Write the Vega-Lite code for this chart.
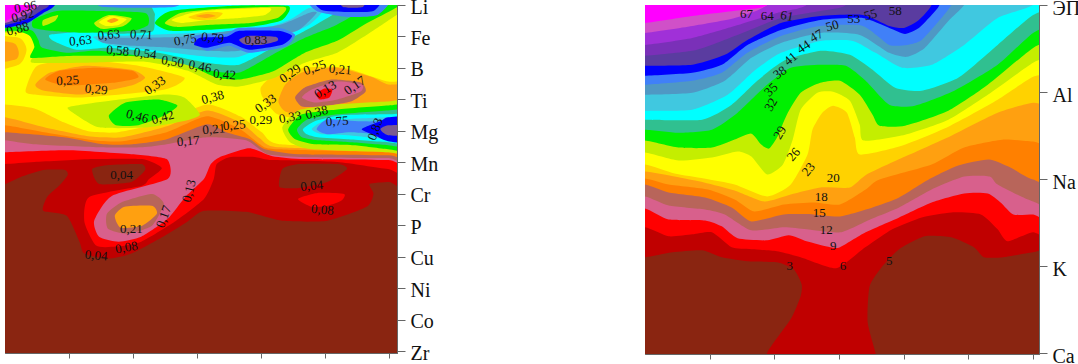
{"$schema":"https://vega.github.io/schema/vega-lite/v6.json","padding":{"left":4,"top":-4,"right":0,"bottom":0},"background":"white","bounds":"flush","spacing":248,"config":{"view":{"stroke":"#555","strokeWidth":1},"concat":{"spacing":248}},"hconcat":[{"width":392,"height":348,"layer":[{"data":{"values":[
{"p":"a","c":"k","x":-30,"y":-30},{"p":"a","c":"k","x":430,"y":-30},{"p":"a","c":"k","x":430,"y":380},{"p":"a","c":"k","x":-30,"y":380},
{"p":"b","c":"dr","x":-30,"y":185},{"p":"b","c":"dr","x":0,"y":180},{"p":"b","c":"dr","x":16,"y":173},{"p":"b","c":"dr","x":39,"y":166},{"p":"b","c":"dr","x":61,"y":166},{"p":"b","c":"dr","x":64,"y":171},{"p":"b","c":"dr","x":56,"y":181},{"p":"b","c":"dr","x":43,"y":193},{"p":"b","c":"dr","x":39,"y":207},{"p":"b","c":"dr","x":63,"y":212},{"p":"b","c":"dr","x":76,"y":238},{"p":"b","c":"dr","x":81,"y":250},{"p":"b","c":"dr","x":105,"y":255},{"p":"b","c":"dr","x":129,"y":250},{"p":"b","c":"dr","x":163,"y":232},{"p":"b","c":"dr","x":186,"y":218},{"p":"b","c":"dr","x":203,"y":207},{"p":"b","c":"dr","x":246,"y":208},{"p":"b","c":"dr","x":283,"y":217},{"p":"b","c":"dr","x":329,"y":217},{"p":"b","c":"dr","x":369,"y":203},{"p":"b","c":"dr","x":376,"y":190},{"p":"b","c":"dr","x":372,"y":180},{"p":"b","c":"dr","x":392,"y":178},{"p":"b","c":"dr","x":420,"y":178},{"p":"b","c":"dr","x":420,"y":-30},{"p":"b","c":"dr","x":-30,"y":-30},
{"p":"c","c":"k","x":89,"y":165},{"p":"c","c":"k","x":106,"y":161},{"p":"c","c":"k","x":139,"y":160},{"p":"c","c":"k","x":143,"y":166},{"p":"c","c":"k","x":129,"y":178},{"p":"c","c":"k","x":96,"y":180},
{"p":"d","c":"k","x":283,"y":165},{"p":"d","c":"k","x":300,"y":160},{"p":"d","c":"k","x":340,"y":160},{"p":"d","c":"k","x":349,"y":165},{"p":"d","c":"k","x":329,"y":178},{"p":"d","c":"k","x":300,"y":184},{"p":"d","c":"k","x":280,"y":183},
{"p":"e","c":"r","x":-30,"y":160},{"p":"e","c":"r","x":0,"y":160},{"p":"e","c":"r","x":30,"y":158},{"p":"e","c":"r","x":90,"y":155},{"p":"e","c":"r","x":140,"y":155},{"p":"e","c":"r","x":160,"y":164},{"p":"e","c":"r","x":147,"y":175},{"p":"e","c":"r","x":139,"y":182},{"p":"e","c":"r","x":86,"y":193},{"p":"e","c":"r","x":81,"y":218},{"p":"e","c":"r","x":93,"y":242},{"p":"e","c":"r","x":113,"y":243},{"p":"e","c":"r","x":139,"y":238},{"p":"e","c":"r","x":173,"y":218},{"p":"e","c":"r","x":203,"y":195},{"p":"e","c":"r","x":213,"y":175},{"p":"e","c":"r","x":216,"y":160},{"p":"e","c":"r","x":229,"y":153},{"p":"e","c":"r","x":256,"y":153},{"p":"e","c":"r","x":273,"y":156},{"p":"e","c":"r","x":339,"y":158},{"p":"e","c":"r","x":391,"y":165},{"p":"e","c":"r","x":420,"y":165},{"p":"e","c":"r","x":420,"y":-30},{"p":"e","c":"r","x":-30,"y":-30},
{"p":"f","c":"r","x":299,"y":195},{"p":"f","c":"r","x":319,"y":189},{"p":"f","c":"r","x":346,"y":190},{"p":"f","c":"r","x":343,"y":197},{"p":"f","c":"r","x":329,"y":202},{"p":"f","c":"r","x":313,"y":203},
{"p":"g","c":"pk","x":-30,"y":148},{"p":"g","c":"pk","x":0,"y":148},{"p":"g","c":"pk","x":63,"y":146},{"p":"g","c":"pk","x":129,"y":150},{"p":"g","c":"pk","x":165,"y":155},{"p":"g","c":"pk","x":166,"y":175},{"p":"g","c":"pk","x":109,"y":192},{"p":"g","c":"pk","x":91,"y":217},{"p":"g","c":"pk","x":96,"y":233},{"p":"g","c":"pk","x":116,"y":238},{"p":"g","c":"pk","x":139,"y":233},{"p":"g","c":"pk","x":166,"y":215},{"p":"g","c":"pk","x":184,"y":193},{"p":"g","c":"pk","x":203,"y":175},{"p":"g","c":"pk","x":210,"y":160},{"p":"g","c":"pk","x":219,"y":153},{"p":"g","c":"pk","x":249,"y":144},{"p":"g","c":"pk","x":273,"y":152},{"p":"g","c":"pk","x":306,"y":155},{"p":"g","c":"pk","x":391,"y":156},{"p":"g","c":"pk","x":420,"y":156},{"p":"g","c":"pk","x":420,"y":-30},{"p":"g","c":"pk","x":-30,"y":-30},
{"p":"h","c":"rb","x":120,"y":198},{"p":"h","c":"rb","x":150,"y":190},{"p":"h","c":"rb","x":162,"y":200},{"p":"h","c":"rb","x":150,"y":222},{"p":"h","c":"rb","x":125,"y":230},{"p":"h","c":"rb","x":105,"y":225},{"p":"h","c":"rb","x":104,"y":210},
{"p":"i","c":"o","x":112,"y":212},{"p":"i","c":"o","x":122,"y":203},{"p":"i","c":"o","x":150,"y":202},{"p":"i","c":"o","x":155,"y":210},{"p":"i","c":"o","x":140,"y":222},{"p":"i","c":"o","x":118,"y":224},
{"p":"j","c":"rb","x":-30,"y":136},{"p":"j","c":"rb","x":0,"y":136},{"p":"j","c":"rb","x":29,"y":140},{"p":"j","c":"rb","x":96,"y":143},{"p":"j","c":"rb","x":140,"y":143},{"p":"j","c":"rb","x":165,"y":140},{"p":"j","c":"rb","x":206,"y":133},{"p":"j","c":"rb","x":246,"y":136},{"p":"j","c":"rb","x":268,"y":150},{"p":"j","c":"rb","x":306,"y":153},{"p":"j","c":"rb","x":391,"y":154},{"p":"j","c":"rb","x":420,"y":154},{"p":"j","c":"rb","x":420,"y":-30},{"p":"j","c":"rb","x":-30,"y":-30},
{"p":"l","c":"do","x":-30,"y":128},{"p":"l","c":"do","x":0,"y":128},{"p":"l","c":"do","x":60,"y":133},{"p":"l","c":"do","x":100,"y":140},{"p":"l","c":"do","x":130,"y":140},{"p":"l","c":"do","x":165,"y":135},{"p":"l","c":"do","x":206,"y":120},{"p":"l","c":"do","x":226,"y":128},{"p":"l","c":"do","x":250,"y":135},{"p":"l","c":"do","x":265,"y":145},{"p":"l","c":"do","x":300,"y":150},{"p":"l","c":"do","x":392,"y":151},{"p":"l","c":"do","x":420,"y":151},{"p":"l","c":"do","x":420,"y":-30},{"p":"l","c":"do","x":-30,"y":-30},
{"p":"n","c":"o","x":-30,"y":121},{"p":"n","c":"o","x":0,"y":121},{"p":"n","c":"o","x":40,"y":128},{"p":"n","c":"o","x":90,"y":136},{"p":"n","c":"o","x":120,"y":137},{"p":"n","c":"o","x":165,"y":128},{"p":"n","c":"o","x":206,"y":112},{"p":"n","c":"o","x":240,"y":125},{"p":"n","c":"o","x":260,"y":140},{"p":"n","c":"o","x":276,"y":145},{"p":"n","c":"o","x":392,"y":148},{"p":"n","c":"o","x":420,"y":148},{"p":"n","c":"o","x":420,"y":-30},{"p":"n","c":"o","x":-30,"y":-30},
{"p":"o","c":"g","x":-30,"y":113},{"p":"o","c":"g","x":0,"y":113},{"p":"o","c":"g","x":40,"y":123},{"p":"o","c":"g","x":85,"y":132},{"p":"o","c":"g","x":120,"y":133},{"p":"o","c":"g","x":165,"y":122},{"p":"o","c":"g","x":206,"y":106},{"p":"o","c":"g","x":240,"y":118},{"p":"o","c":"g","x":260,"y":134},{"p":"o","c":"g","x":278,"y":143},{"p":"o","c":"g","x":392,"y":146},{"p":"o","c":"g","x":420,"y":146},{"p":"o","c":"g","x":420,"y":-30},{"p":"o","c":"g","x":-30,"y":-30},
{"p":"q","c":"y","x":-30,"y":100},{"p":"q","c":"y","x":0,"y":100},{"p":"q","c":"y","x":30,"y":104},{"p":"q","c":"y","x":60,"y":118},{"p":"q","c":"y","x":85,"y":127},{"p":"q","c":"y","x":115,"y":128},{"p":"q","c":"y","x":160,"y":118},{"p":"q","c":"y","x":206,"y":100},{"p":"q","c":"y","x":240,"y":112},{"p":"q","c":"y","x":262,"y":128},{"p":"q","c":"y","x":280,"y":140},{"p":"q","c":"y","x":392,"y":144},{"p":"q","c":"y","x":420,"y":144},{"p":"q","c":"y","x":420,"y":-30},{"p":"q","c":"y","x":-30,"y":-30},
{"p":"s","c":"g","x":-30,"y":32},{"p":"s","c":"g","x":14,"y":33},{"p":"s","c":"g","x":22,"y":45},{"p":"s","c":"g","x":14,"y":60},{"p":"s","c":"g","x":-30,"y":68},
{"p":"t","c":"o","x":-30,"y":36},{"p":"t","c":"o","x":8,"y":38},{"p":"t","c":"o","x":14,"y":47},{"p":"t","c":"o","x":10,"y":55},{"p":"t","c":"o","x":-30,"y":60},
{"p":"u","c":"g","x":21,"y":86},{"p":"u","c":"g","x":33,"y":61},{"p":"u","c":"g","x":76,"y":55},{"p":"u","c":"g","x":136,"y":61},{"p":"u","c":"g","x":183,"y":73},{"p":"u","c":"g","x":163,"y":85},{"p":"u","c":"g","x":79,"y":93},{"p":"u","c":"g","x":29,"y":90},
{"p":"v","c":"o","x":31,"y":80},{"p":"v","c":"o","x":46,"y":68},{"p":"v","c":"o","x":83,"y":61},{"p":"v","c":"o","x":129,"y":65},{"p":"v","c":"o","x":143,"y":73},{"p":"v","c":"o","x":129,"y":81},{"p":"v","c":"o","x":79,"y":90},{"p":"v","c":"o","x":39,"y":86},
{"p":"w","c":"do","x":41,"y":75},{"p":"w","c":"do","x":56,"y":66},{"p":"w","c":"do","x":93,"y":63},{"p":"w","c":"do","x":129,"y":66},{"p":"w","c":"do","x":136,"y":73},{"p":"w","c":"do","x":113,"y":78},{"p":"w","c":"do","x":63,"y":81},
{"p":"x","c":"yg","x":64,"y":103},{"p":"x","c":"yg","x":79,"y":100},{"p":"x","c":"yg","x":109,"y":96},{"p":"x","c":"yg","x":163,"y":90},{"p":"x","c":"yg","x":183,"y":93},{"p":"x","c":"yg","x":199,"y":110},{"p":"x","c":"yg","x":186,"y":116},{"p":"x","c":"yg","x":146,"y":123},{"p":"x","c":"yg","x":96,"y":123},{"p":"x","c":"yg","x":69,"y":108},
{"p":"y","c":"gr","x":106,"y":111},{"p":"y","c":"gr","x":123,"y":98},{"p":"y","c":"gr","x":156,"y":95},{"p":"y","c":"gr","x":176,"y":101},{"p":"y","c":"gr","x":163,"y":111},{"p":"y","c":"gr","x":136,"y":121},{"p":"y","c":"gr","x":113,"y":121},
{"p":"z1","c":"g","x":261,"y":83},{"p":"z1","c":"g","x":273,"y":72},{"p":"z1","c":"g","x":306,"y":63},{"p":"z1","c":"g","x":346,"y":63},{"p":"z1","c":"g","x":391,"y":77},{"p":"z1","c":"g","x":420,"y":77},{"p":"z1","c":"g","x":420,"y":110},{"p":"z1","c":"g","x":391,"y":110},{"p":"z1","c":"g","x":339,"y":108},{"p":"z1","c":"g","x":306,"y":115},{"p":"z1","c":"g","x":278,"y":110},{"p":"z1","c":"g","x":263,"y":93},
{"p":"z2","c":"o","x":279,"y":97},{"p":"z2","c":"o","x":286,"y":80},{"p":"z2","c":"o","x":303,"y":68},{"p":"z2","c":"o","x":339,"y":63},{"p":"z2","c":"o","x":373,"y":72},{"p":"z2","c":"o","x":391,"y":80},{"p":"z2","c":"o","x":420,"y":80},{"p":"z2","c":"o","x":420,"y":108},{"p":"z2","c":"o","x":391,"y":105},{"p":"z2","c":"o","x":339,"y":105},{"p":"z2","c":"o","x":306,"y":110},{"p":"z2","c":"o","x":286,"y":107},
{"p":"z3","c":"rb","x":296,"y":93},{"p":"z3","c":"rb","x":306,"y":83},{"p":"z3","c":"rb","x":333,"y":75},{"p":"z3","c":"rb","x":363,"y":78},{"p":"z3","c":"rb","x":368,"y":87},{"p":"z3","c":"rb","x":353,"y":97},{"p":"z3","c":"rb","x":323,"y":102},{"p":"z3","c":"rb","x":303,"y":102},
{"p":"z4","c":"pk","x":303,"y":93},{"p":"z4","c":"pk","x":313,"y":85},{"p":"z4","c":"pk","x":339,"y":77},{"p":"z4","c":"pk","x":364,"y":80},{"p":"z4","c":"pk","x":363,"y":87},{"p":"z4","c":"pk","x":339,"y":95},{"p":"z4","c":"pk","x":316,"y":98},
{"p":"z5","c":"r","x":318,"y":89},{"p":"z5","c":"r","x":326,"y":84},{"p":"z5","c":"r","x":334,"y":85},{"p":"z5","c":"r","x":331,"y":93},{"p":"z5","c":"r","x":321,"y":95},
{"p":"A1","c":"yg","x":283,"y":123},{"p":"A1","c":"yg","x":299,"y":106},{"p":"A1","c":"yg","x":339,"y":100},{"p":"A1","c":"yg","x":391,"y":97},{"p":"A1","c":"yg","x":420,"y":97},{"p":"A1","c":"yg","x":420,"y":150},{"p":"A1","c":"yg","x":391,"y":148},{"p":"A1","c":"yg","x":313,"y":145},{"p":"A1","c":"yg","x":291,"y":138},
{"p":"A2","c":"gr","x":289,"y":125},{"p":"A2","c":"gr","x":303,"y":110},{"p":"A2","c":"gr","x":339,"y":105},{"p":"A2","c":"gr","x":391,"y":101},{"p":"A2","c":"gr","x":420,"y":101},{"p":"A2","c":"gr","x":420,"y":147},{"p":"A2","c":"gr","x":391,"y":145},{"p":"A2","c":"gr","x":356,"y":141},{"p":"A2","c":"gr","x":316,"y":140},{"p":"A2","c":"gr","x":296,"y":135},
{"p":"A3","c":"t","x":298,"y":125},{"p":"A3","c":"t","x":309,"y":115},{"p":"A3","c":"t","x":339,"y":110},{"p":"A3","c":"t","x":391,"y":106},{"p":"A3","c":"t","x":420,"y":106},{"p":"A3","c":"t","x":420,"y":143},{"p":"A3","c":"t","x":391,"y":141},{"p":"A3","c":"t","x":353,"y":138},{"p":"A3","c":"t","x":319,"y":136},{"p":"A3","c":"t","x":303,"y":133},
{"p":"A4","c":"cy","x":304,"y":125},{"p":"A4","c":"cy","x":316,"y":117},{"p":"A4","c":"cy","x":343,"y":111},{"p":"A4","c":"cy","x":391,"y":110},{"p":"A4","c":"cy","x":420,"y":110},{"p":"A4","c":"cy","x":420,"y":140},{"p":"A4","c":"cy","x":391,"y":138},{"p":"A4","c":"cy","x":349,"y":135},{"p":"A4","c":"cy","x":319,"y":133},{"p":"A4","c":"cy","x":308,"y":130},
{"p":"A5","c":"lb","x":313,"y":125},{"p":"A5","c":"lb","x":323,"y":118},{"p":"A5","c":"lb","x":346,"y":115},{"p":"A5","c":"lb","x":391,"y":113},{"p":"A5","c":"lb","x":420,"y":113},{"p":"A5","c":"lb","x":420,"y":137},{"p":"A5","c":"lb","x":391,"y":135},{"p":"A5","c":"lb","x":349,"y":131},{"p":"A5","c":"lb","x":323,"y":130},
{"p":"A6","c":"mb","x":318,"y":125},{"p":"A6","c":"mb","x":329,"y":115},{"p":"A6","c":"mb","x":363,"y":117},{"p":"A6","c":"mb","x":391,"y":117},{"p":"A6","c":"mb","x":420,"y":117},{"p":"A6","c":"mb","x":420,"y":133},{"p":"A6","c":"mb","x":391,"y":131},{"p":"A6","c":"mb","x":353,"y":128},{"p":"A6","c":"mb","x":329,"y":130},
{"p":"A7","c":"b","x":364,"y":125},{"p":"A7","c":"b","x":383,"y":117},{"p":"A7","c":"b","x":391,"y":113},{"p":"A7","c":"b","x":420,"y":113},{"p":"A7","c":"b","x":420,"y":139},{"p":"A7","c":"b","x":391,"y":137},{"p":"A7","c":"b","x":379,"y":132},
{"p":"A8","c":"gp","x":383,"y":125},{"p":"A8","c":"gp","x":391,"y":121},{"p":"A8","c":"gp","x":420,"y":121},{"p":"A8","c":"gp","x":420,"y":131},{"p":"A8","c":"gp","x":391,"y":131},
{"p":"B1","c":"yg","x":-30,"y":26},{"p":"B1","c":"yg","x":18,"y":27},{"p":"B1","c":"yg","x":32,"y":35},{"p":"B1","c":"yg","x":30,"y":50},{"p":"B1","c":"yg","x":28,"y":58},{"p":"B1","c":"yg","x":80,"y":58},{"p":"B1","c":"yg","x":143,"y":57},{"p":"B1","c":"yg","x":186,"y":66},{"p":"B1","c":"yg","x":216,"y":80},{"p":"B1","c":"yg","x":239,"y":82},{"p":"B1","c":"yg","x":273,"y":74},{"p":"B1","c":"yg","x":306,"y":58},{"p":"B1","c":"yg","x":339,"y":48},{"p":"B1","c":"yg","x":366,"y":32},{"p":"B1","c":"yg","x":395,"y":13},{"p":"B1","c":"yg","x":430,"y":-10},{"p":"B1","c":"yg","x":430,"y":-30},{"p":"B1","c":"yg","x":-30,"y":-30},
{"p":"B2","c":"gr","x":-30,"y":25},{"p":"B2","c":"gr","x":10,"y":26},{"p":"B2","c":"gr","x":25,"y":31},{"p":"B2","c":"gr","x":30,"y":42},{"p":"B2","c":"gr","x":26,"y":53},{"p":"B2","c":"gr","x":50,"y":52},{"p":"B2","c":"gr","x":73,"y":51},{"p":"B2","c":"gr","x":143,"y":52},{"p":"B2","c":"gr","x":186,"y":60},{"p":"B2","c":"gr","x":216,"y":73},{"p":"B2","c":"gr","x":239,"y":75},{"p":"B2","c":"gr","x":273,"y":67},{"p":"B2","c":"gr","x":306,"y":48},{"p":"B2","c":"gr","x":339,"y":36},{"p":"B2","c":"gr","x":366,"y":20},{"p":"B2","c":"gr","x":395,"y":5},{"p":"B2","c":"gr","x":430,"y":-15},{"p":"B2","c":"gr","x":430,"y":-30},{"p":"B2","c":"gr","x":-30,"y":-30},
{"p":"B3","c":"t","x":-30,"y":22},{"p":"B3","c":"t","x":10,"y":22},{"p":"B3","c":"t","x":28,"y":26},{"p":"B3","c":"t","x":34,"y":35},{"p":"B3","c":"t","x":38,"y":43},{"p":"B3","c":"t","x":63,"y":48},{"p":"B3","c":"t","x":96,"y":46},{"p":"B3","c":"t","x":163,"y":55},{"p":"B3","c":"t","x":209,"y":66},{"p":"B3","c":"t","x":239,"y":68},{"p":"B3","c":"t","x":273,"y":50},{"p":"B3","c":"t","x":306,"y":33},{"p":"B3","c":"t","x":336,"y":21},{"p":"B3","c":"t","x":356,"y":10},{"p":"B3","c":"t","x":369,"y":0},{"p":"B3","c":"t","x":385,"y":-30},{"p":"B3","c":"t","x":-30,"y":-30},
{"p":"B4","c":"cy","x":46,"y":30},{"p":"B4","c":"cy","x":80,"y":27},{"p":"B4","c":"cy","x":110,"y":29},{"p":"B4","c":"cy","x":150,"y":27},{"p":"B4","c":"cy","x":153,"y":10},{"p":"B4","c":"cy","x":160,"y":-8},{"p":"B4","c":"cy","x":360,"y":-8},{"p":"B4","c":"cy","x":346,"y":3},{"p":"B4","c":"cy","x":329,"y":13},{"p":"B4","c":"cy","x":306,"y":26},{"p":"B4","c":"cy","x":273,"y":43},{"p":"B4","c":"cy","x":239,"y":60},{"p":"B4","c":"cy","x":206,"y":58},{"p":"B4","c":"cy","x":156,"y":48},{"p":"B4","c":"cy","x":106,"y":43},{"p":"B4","c":"cy","x":73,"y":45},{"p":"B4","c":"cy","x":49,"y":36},
{"p":"B5","c":"lb","x":90,"y":32},{"p":"B5","c":"lb","x":120,"y":31},{"p":"B5","c":"lb","x":150,"y":30},{"p":"B5","c":"lb","x":200,"y":28},{"p":"B5","c":"lb","x":250,"y":28},{"p":"B5","c":"lb","x":290,"y":15},{"p":"B5","c":"lb","x":310,"y":3},{"p":"B5","c":"lb","x":325,"y":5},{"p":"B5","c":"lb","x":310,"y":20},{"p":"B5","c":"lb","x":273,"y":37},{"p":"B5","c":"lb","x":239,"y":52},{"p":"B5","c":"lb","x":206,"y":52},{"p":"B5","c":"lb","x":156,"y":46},{"p":"B5","c":"lb","x":106,"y":40},
{"p":"B6","c":"st","x":96,"y":33},{"p":"B6","c":"st","x":130,"y":33},{"p":"B6","c":"st","x":180,"y":32},{"p":"B6","c":"st","x":230,"y":26},{"p":"B6","c":"st","x":280,"y":20},{"p":"B6","c":"st","x":310,"y":8},{"p":"B6","c":"st","x":318,"y":8},{"p":"B6","c":"st","x":300,"y":25},{"p":"B6","c":"st","x":273,"y":33},{"p":"B6","c":"st","x":239,"y":46},{"p":"B6","c":"st","x":206,"y":46},{"p":"B6","c":"st","x":169,"y":43},{"p":"B6","c":"st","x":129,"y":41},{"p":"B6","c":"st","x":100,"y":38},
{"p":"B7","c":"mb","x":190,"y":35},{"p":"B7","c":"mb","x":199,"y":30},{"p":"B7","c":"mb","x":226,"y":29},{"p":"B7","c":"mb","x":239,"y":23},{"p":"B7","c":"mb","x":279,"y":23},{"p":"B7","c":"mb","x":296,"y":30},{"p":"B7","c":"mb","x":286,"y":42},{"p":"B7","c":"mb","x":249,"y":48},{"p":"B7","c":"mb","x":229,"y":41},{"p":"B7","c":"mb","x":206,"y":46},
{"p":"B8","c":"b","x":193,"y":40},{"p":"B8","c":"b","x":199,"y":33},{"p":"B8","c":"b","x":226,"y":32},{"p":"B8","c":"b","x":239,"y":26},{"p":"B8","c":"b","x":279,"y":26},{"p":"B8","c":"b","x":293,"y":31},{"p":"B8","c":"b","x":283,"y":40},{"p":"B8","c":"b","x":249,"y":45},{"p":"B8","c":"b","x":229,"y":38},{"p":"B8","c":"b","x":206,"y":43},
{"p":"B9","c":"gp","x":239,"y":35},{"p":"B9","c":"gp","x":249,"y":31},{"p":"B9","c":"gp","x":276,"y":32},{"p":"B9","c":"gp","x":278,"y":36},{"p":"B9","c":"gp","x":263,"y":40},{"p":"B9","c":"gp","x":246,"y":40},
{"p":"C1","c":"gr","x":29,"y":15},{"p":"C1","c":"gr","x":53,"y":6},{"p":"C1","c":"gr","x":96,"y":6},{"p":"C1","c":"gr","x":143,"y":8},{"p":"C1","c":"gr","x":146,"y":20},{"p":"C1","c":"gr","x":129,"y":26},{"p":"C1","c":"gr","x":79,"y":28},{"p":"C1","c":"gr","x":46,"y":26},{"p":"C1","c":"gr","x":29,"y":23},
{"p":"C2","c":"yg","x":39,"y":15},{"p":"C2","c":"yg","x":54,"y":10},{"p":"C2","c":"yg","x":51,"y":16},{"p":"C2","c":"yg","x":39,"y":21},
{"p":"C3","c":"yg","x":91,"y":18},{"p":"C3","c":"yg","x":106,"y":10},{"p":"C3","c":"yg","x":129,"y":13},{"p":"C3","c":"yg","x":121,"y":21},{"p":"C3","c":"yg","x":99,"y":24},
{"p":"C4","c":"y","x":96,"y":17},{"p":"C4","c":"y","x":108,"y":11},{"p":"C4","c":"y","x":124,"y":14},{"p":"C4","c":"y","x":116,"y":20},{"p":"C4","c":"y","x":103,"y":21},
{"p":"C5","c":"o","x":104,"y":16},{"p":"C5","c":"o","x":111,"y":13},{"p":"C5","c":"o","x":116,"y":15},{"p":"C5","c":"o","x":109,"y":18},
{"p":"C6","c":"gr","x":153,"y":18},{"p":"C6","c":"gr","x":169,"y":6},{"p":"C6","c":"gr","x":230,"y":1},{"p":"C6","c":"gr","x":289,"y":1},{"p":"C6","c":"gr","x":283,"y":15},{"p":"C6","c":"gr","x":256,"y":21},{"p":"C6","c":"gr","x":206,"y":25},{"p":"C6","c":"gr","x":169,"y":26},
{"p":"C7","c":"yg","x":163,"y":18},{"p":"C7","c":"yg","x":179,"y":8},{"p":"C7","c":"yg","x":216,"y":4},{"p":"C7","c":"yg","x":285,"y":2},{"p":"C7","c":"yg","x":278,"y":13},{"p":"C7","c":"yg","x":250,"y":18},{"p":"C7","c":"yg","x":206,"y":20},{"p":"C7","c":"yg","x":175,"y":22},
{"p":"C8","c":"y","x":170,"y":15},{"p":"C8","c":"y","x":190,"y":8},{"p":"C8","c":"y","x":216,"y":5},{"p":"C8","c":"y","x":270,"y":3},{"p":"C8","c":"y","x":265,"y":10},{"p":"C8","c":"y","x":240,"y":13},{"p":"C8","c":"y","x":206,"y":15},{"p":"C8","c":"y","x":180,"y":18},
{"p":"C9","c":"g","x":187,"y":12},{"p":"C9","c":"g","x":205,"y":7},{"p":"C9","c":"g","x":222,"y":8},{"p":"C9","c":"g","x":215,"y":14},{"p":"C9","c":"g","x":198,"y":15},
{"p":"D1","c":"o","x":195,"y":11},{"p":"D1","c":"o","x":207,"y":9},{"p":"D1","c":"o","x":215,"y":11},{"p":"D1","c":"o","x":205,"y":13},
{"p":"D2","c":"mb","x":310,"y":-8},{"p":"D2","c":"mb","x":318,"y":6},{"p":"D2","c":"mb","x":349,"y":12},{"p":"D2","c":"mb","x":380,"y":10},{"p":"D2","c":"mb","x":392,"y":-8},
{"p":"D3","c":"b","x":316,"y":-8},{"p":"D3","c":"b","x":323,"y":5},{"p":"D3","c":"b","x":349,"y":7},{"p":"D3","c":"b","x":376,"y":6},{"p":"D3","c":"b","x":383,"y":-8},
{"p":"D4","c":"gp","x":340,"y":-8},{"p":"D4","c":"gp","x":345,"y":2},{"p":"D4","c":"gp","x":365,"y":2},{"p":"D4","c":"gp","x":368,"y":-8},
{"p":"D5","c":"mb","x":95,"y":-8},{"p":"D5","c":"mb","x":180,"y":-8},{"p":"D5","c":"mb","x":172,"y":2},{"p":"D5","c":"mb","x":100,"y":2},
{"p":"E1","c":"b","x":-30,"y":23},{"p":"E1","c":"b","x":0,"y":23},{"p":"E1","c":"b","x":23,"y":18},{"p":"E1","c":"b","x":39,"y":8},{"p":"E1","c":"b","x":51,"y":0},{"p":"E1","c":"b","x":60,"y":-30},{"p":"E1","c":"b","x":-30,"y":-30},
{"p":"E2","c":"dp","x":-30,"y":20},{"p":"E2","c":"dp","x":0,"y":20},{"p":"E2","c":"dp","x":23,"y":14},{"p":"E2","c":"dp","x":38,"y":5},{"p":"E2","c":"dp","x":45,"y":0},{"p":"E2","c":"dp","x":55,"y":-30},{"p":"E2","c":"dp","x":-30,"y":-30},
{"p":"E3","c":"or","x":-30,"y":18},{"p":"E3","c":"or","x":0,"y":18},{"p":"E3","c":"or","x":20,"y":10},{"p":"E3","c":"or","x":35,"y":0},{"p":"E3","c":"or","x":45,"y":-30},{"p":"E3","c":"or","x":-30,"y":-30},
{"p":"E4","c":"m","x":-30,"y":16},{"p":"E4","c":"m","x":0,"y":16},{"p":"E4","c":"m","x":18,"y":6},{"p":"E4","c":"m","x":30,"y":0},{"p":"E4","c":"m","x":40,"y":-30},{"p":"E4","c":"m","x":-30,"y":-30}
]},"mark":{"type":"line","filled":true,"interpolate":"cardinal-closed","tension":0.4,"clip":true,"strokeWidth":0},"encoding":{"x":{"field":"x","type":"quantitative","scale":{"domain":[0,392]},"axis":{"title":null,"orient":"bottom","values":[65.33,130.67,196,261.33,326.67,392],"tickCount":6,"labels":false,"grid":false,"tickSize":5,"tickColor":"#666","domainColor":"#666"}},"y":{"field":"y","type":"quantitative","scale":{"domain":[348,0]},"axis":{"title":null,"orient":"right","values":[0,31.64,63.27,94.91,126.55,158.18,189.82,221.45,253.09,284.73,316.36,348],"tickCount":12,"labelOffset":2,"labelExpr":"['Li','Fe','B','Ti','Mg','Mn','Cr','P','Cu','Ni','Co','Zr'][round(datum.value/31.636)]","labelOverlap":false,"labelBound":false,"grid":false,"tickSize":8,"tickColor":"#666","domainColor":"#666","labelFont":"Liberation Serif","labelFontSize":20,"labelColor":"#111","labelPadding":5}},"color":{"field":"c","type":"nominal","legend":null,"scale":{"domain":["k","dr","r","pk","rb","do","o","g","y","yg","gr","t","cy","lb","st","mb","b","gp","dp","pu","vi","or","m"],"range":["#8A2511","#C00000","#FF0000","#D8608C","#B8655A","#FF8000","#FFA010","#FFD200","#FFFF00","#C4EE00","#00F000","#30C090","#00FFFF","#40C8E0","#4F98C4","#4080F8","#0000FF","#7A5A90","#5A3CA0","#7A30B8","#A030D8","#D050C8","#FF00FF"]}},"detail":{"field":"p"},"order":{"value":null}}},
{"data":{"values":[
{"t":"0,96","x":21,"y":2,"a":-10},{"t":"0,92","x":18,"y":11,"a":-15},{"t":"0,88","x":13,"y":24,"a":-15},{"t":"0,63","x":77,"y":36,"a":-5},{"t":"0,63","x":106,"y":30,"a":-5},{"t":"0,71","x":139,"y":30,"a":3},{"t":"0,75","x":184,"y":35,"a":-10},{"t":"0,79","x":212,"y":33,"a":5},{"t":"0,83","x":256,"y":35,"a":0},{"t":"0,58","x":115,"y":46,"a":5},{"t":"0,54","x":143,"y":49,"a":8},{"t":"0,50","x":171,"y":57,"a":10},{"t":"0,46","x":199,"y":62,"a":10},{"t":"0,42","x":224,"y":70,"a":5},{"t":"0,25","x":64,"y":76,"a":-3},{"t":"0,29","x":93,"y":85,"a":5},{"t":"0,33","x":153,"y":81,"a":-35},{"t":"0,38","x":212,"y":93,"a":-15},{"t":"0,46","x":135,"y":112,"a":15},{"t":"0,42","x":161,"y":113,"a":-15},{"t":"0,33","x":266,"y":99,"a":-35},{"t":"0,29","x":291,"y":69,"a":-35},{"t":"0,25","x":316,"y":63,"a":-20},{"t":"0,21","x":342,"y":65,"a":5},{"t":"0,13","x":327,"y":85,"a":-30},{"t":"0,17","x":357,"y":81,"a":-35},{"t":"0,33","x":291,"y":113,"a":-10},{"t":"0,38","x":318,"y":108,"a":-15},{"t":"0,29","x":261,"y":116,"a":0},{"t":"0,25","x":234,"y":121,"a":-5},{"t":"0,21","x":213,"y":125,"a":-5},{"t":"0,17","x":187,"y":137,"a":-5},{"t":"0,75","x":339,"y":117,"a":-3},{"t":"0,83","x":378,"y":125,"a":-70},{"t":"0,04","x":119,"y":171,"a":0},{"t":"0,04","x":313,"y":182,"a":-5},{"t":"0,08","x":324,"y":206,"a":5},{"t":"0,21","x":129,"y":225,"a":0},{"t":"0,17","x":162,"y":213,"a":-70},{"t":"0,13","x":188,"y":187,"a":-75},{"t":"0,08","x":124,"y":244,"a":-10},{"t":"0,04","x":93,"y":252,"a":5}
]},"mark":{"type":"text","font":"Liberation Serif","fontSize":13,"color":"#111","baseline":"middle","align":"center"},"encoding":{"x":{"field":"x","type":"quantitative"},"y":{"field":"y","type":"quantitative"},"text":{"field":"t"},"angle":{"field":"a","type":"quantitative","scale":null}}}]},
{"width":394,"height":349,"layer":[{"data":{"values":[
{"p":"a","c":"dr","x":-30,"y":-30},{"p":"a","c":"dr","x":430,"y":-30},{"p":"a","c":"dr","x":430,"y":380},{"p":"a","c":"dr","x":-30,"y":380},
{"p":"b","c":"k","x":-30,"y":253},{"p":"b","c":"k","x":0,"y":253},{"p":"b","c":"k","x":28,"y":248},{"p":"b","c":"k","x":58,"y":246},{"p":"b","c":"k","x":78,"y":253},{"p":"b","c":"k","x":104,"y":257},{"p":"b","c":"k","x":134,"y":258},{"p":"b","c":"k","x":151,"y":265},{"p":"b","c":"k","x":159,"y":280},{"p":"b","c":"k","x":158,"y":292},{"p":"b","c":"k","x":148,"y":315},{"p":"b","c":"k","x":124,"y":349},{"p":"b","c":"k","x":118,"y":380},{"p":"b","c":"k","x":-30,"y":380},
{"p":"c","c":"k","x":240,"y":380},{"p":"c","c":"k","x":234,"y":349},{"p":"c","c":"k","x":226,"y":318},{"p":"c","c":"k","x":228,"y":282},{"p":"c","c":"k","x":241,"y":262},{"p":"c","c":"k","x":258,"y":245},{"p":"c","c":"k","x":284,"y":232},{"p":"c","c":"k","x":311,"y":233},{"p":"c","c":"k","x":334,"y":243},{"p":"c","c":"k","x":344,"y":253},{"p":"c","c":"k","x":364,"y":253},{"p":"c","c":"k","x":394,"y":248},{"p":"c","c":"k","x":430,"y":246},{"p":"c","c":"k","x":430,"y":380},
{"p":"d","c":"r","x":-30,"y":223},{"p":"d","c":"r","x":0,"y":223},{"p":"d","c":"r","x":24,"y":232},{"p":"d","c":"r","x":48,"y":230},{"p":"d","c":"r","x":68,"y":228},{"p":"d","c":"r","x":88,"y":243},{"p":"d","c":"r","x":108,"y":245},{"p":"d","c":"r","x":134,"y":247},{"p":"d","c":"r","x":158,"y":253},{"p":"d","c":"r","x":194,"y":264},{"p":"d","c":"r","x":221,"y":245},{"p":"d","c":"r","x":251,"y":225},{"p":"d","c":"r","x":281,"y":213},{"p":"d","c":"r","x":311,"y":208},{"p":"d","c":"r","x":341,"y":210},{"p":"d","c":"r","x":358,"y":225},{"p":"d","c":"r","x":368,"y":237},{"p":"d","c":"r","x":394,"y":228},{"p":"d","c":"r","x":430,"y":228},{"p":"d","c":"r","x":430,"y":-30},{"p":"d","c":"r","x":-30,"y":-30},
{"p":"e","c":"pk","x":-30,"y":204},{"p":"e","c":"pk","x":0,"y":204},{"p":"e","c":"pk","x":24,"y":215},{"p":"e","c":"pk","x":61,"y":216},{"p":"e","c":"pk","x":78,"y":222},{"p":"e","c":"pk","x":94,"y":234},{"p":"e","c":"pk","x":124,"y":236},{"p":"e","c":"pk","x":146,"y":231},{"p":"e","c":"pk","x":164,"y":237},{"p":"e","c":"pk","x":188,"y":243},{"p":"e","c":"pk","x":198,"y":243},{"p":"e","c":"pk","x":224,"y":228},{"p":"e","c":"pk","x":258,"y":213},{"p":"e","c":"pk","x":291,"y":198},{"p":"e","c":"pk","x":324,"y":189},{"p":"e","c":"pk","x":348,"y":189},{"p":"e","c":"pk","x":361,"y":198},{"p":"e","c":"pk","x":374,"y":210},{"p":"e","c":"pk","x":394,"y":210},{"p":"e","c":"pk","x":430,"y":210},{"p":"e","c":"pk","x":430,"y":-30},{"p":"e","c":"pk","x":-30,"y":-30},
{"p":"f","c":"rb","x":-30,"y":192},{"p":"f","c":"rb","x":0,"y":192},{"p":"f","c":"rb","x":24,"y":201},{"p":"f","c":"rb","x":61,"y":205},{"p":"f","c":"rb","x":81,"y":210},{"p":"f","c":"rb","x":108,"y":226},{"p":"f","c":"rb","x":141,"y":223},{"p":"f","c":"rb","x":164,"y":225},{"p":"f","c":"rb","x":198,"y":228},{"p":"f","c":"rb","x":231,"y":214},{"p":"f","c":"rb","x":258,"y":203},{"p":"f","c":"rb","x":291,"y":185},{"p":"f","c":"rb","x":324,"y":172},{"p":"f","c":"rb","x":350,"y":172},{"p":"f","c":"rb","x":358,"y":180},{"p":"f","c":"rb","x":394,"y":197},{"p":"f","c":"rb","x":430,"y":197},{"p":"f","c":"rb","x":430,"y":-30},{"p":"f","c":"rb","x":-30,"y":-30},
{"p":"g","c":"do","x":-30,"y":180},{"p":"g","c":"do","x":0,"y":180},{"p":"g","c":"do","x":24,"y":188},{"p":"g","c":"do","x":61,"y":193},{"p":"g","c":"do","x":88,"y":203},{"p":"g","c":"do","x":108,"y":217},{"p":"g","c":"do","x":141,"y":210},{"p":"g","c":"do","x":171,"y":210},{"p":"g","c":"do","x":198,"y":212},{"p":"g","c":"do","x":231,"y":203},{"p":"g","c":"do","x":258,"y":193},{"p":"g","c":"do","x":288,"y":175},{"p":"g","c":"do","x":318,"y":161},{"p":"g","c":"do","x":349,"y":155},{"p":"g","c":"do","x":371,"y":163},{"p":"g","c":"do","x":394,"y":175},{"p":"g","c":"do","x":430,"y":175},{"p":"g","c":"do","x":430,"y":-30},{"p":"g","c":"do","x":-30,"y":-30},
{"p":"h","c":"o","x":-30,"y":174},{"p":"h","c":"o","x":0,"y":174},{"p":"h","c":"o","x":24,"y":180},{"p":"h","c":"o","x":64,"y":185},{"p":"h","c":"o","x":91,"y":195},{"p":"h","c":"o","x":111,"y":207},{"p":"h","c":"o","x":141,"y":200},{"p":"h","c":"o","x":171,"y":198},{"p":"h","c":"o","x":198,"y":200},{"p":"h","c":"o","x":224,"y":185},{"p":"h","c":"o","x":238,"y":175},{"p":"h","c":"o","x":291,"y":160},{"p":"h","c":"o","x":324,"y":143},{"p":"h","c":"o","x":364,"y":135},{"p":"h","c":"o","x":394,"y":137},{"p":"h","c":"o","x":430,"y":137},{"p":"h","c":"o","x":430,"y":-30},{"p":"h","c":"o","x":-30,"y":-30},
{"p":"i","c":"g","x":-30,"y":167},{"p":"i","c":"g","x":0,"y":167},{"p":"i","c":"g","x":30,"y":172},{"p":"i","c":"g","x":60,"y":178},{"p":"i","c":"g","x":91,"y":186},{"p":"i","c":"g","x":121,"y":197},{"p":"i","c":"g","x":148,"y":190},{"p":"i","c":"g","x":178,"y":183},{"p":"i","c":"g","x":208,"y":183},{"p":"i","c":"g","x":225,"y":170},{"p":"i","c":"g","x":264,"y":152},{"p":"i","c":"g","x":311,"y":131},{"p":"i","c":"g","x":358,"y":108},{"p":"i","c":"g","x":394,"y":98},{"p":"i","c":"g","x":430,"y":98},{"p":"i","c":"g","x":430,"y":-30},{"p":"i","c":"g","x":-30,"y":-30},
{"p":"j","c":"y","x":-30,"y":160},{"p":"j","c":"y","x":0,"y":160},{"p":"j","c":"y","x":30,"y":169},{"p":"j","c":"y","x":60,"y":174},{"p":"j","c":"y","x":91,"y":180},{"p":"j","c":"y","x":124,"y":192},{"p":"j","c":"y","x":148,"y":180},{"p":"j","c":"y","x":165,"y":150},{"p":"j","c":"y","x":170,"y":125},{"p":"j","c":"y","x":180,"y":108},{"p":"j","c":"y","x":191,"y":101},{"p":"j","c":"y","x":205,"y":108},{"p":"j","c":"y","x":213,"y":133},{"p":"j","c":"y","x":218,"y":150},{"p":"j","c":"y","x":258,"y":142},{"p":"j","c":"y","x":308,"y":122},{"p":"j","c":"y","x":358,"y":95},{"p":"j","c":"y","x":394,"y":72},{"p":"j","c":"y","x":430,"y":60},{"p":"j","c":"y","x":430,"y":-30},{"p":"j","c":"y","x":-30,"y":-30},
{"p":"l","c":"yg","x":-30,"y":148},{"p":"l","c":"yg","x":0,"y":148},{"p":"l","c":"yg","x":34,"y":156},{"p":"l","c":"yg","x":68,"y":153},{"p":"l","c":"yg","x":94,"y":147},{"p":"l","c":"yg","x":108,"y":152},{"p":"l","c":"yg","x":124,"y":170},{"p":"l","c":"yg","x":140,"y":160},{"p":"l","c":"yg","x":150,"y":135},{"p":"l","c":"yg","x":158,"y":105},{"p":"l","c":"yg","x":175,"y":88},{"p":"l","c":"yg","x":191,"y":87},{"p":"l","c":"yg","x":208,"y":96},{"p":"l","c":"yg","x":218,"y":120},{"p":"l","c":"yg","x":222,"y":136},{"p":"l","c":"yg","x":264,"y":130},{"p":"l","c":"yg","x":308,"y":115},{"p":"l","c":"yg","x":348,"y":90},{"p":"l","c":"yg","x":394,"y":58},{"p":"l","c":"yg","x":430,"y":40},{"p":"l","c":"yg","x":430,"y":-30},{"p":"l","c":"yg","x":-30,"y":-30},
{"p":"n","c":"gr","x":-30,"y":136},{"p":"n","c":"gr","x":0,"y":136},{"p":"n","c":"gr","x":34,"y":143},{"p":"n","c":"gr","x":68,"y":143},{"p":"n","c":"gr","x":91,"y":135},{"p":"n","c":"gr","x":108,"y":129},{"p":"n","c":"gr","x":118,"y":140},{"p":"n","c":"gr","x":126,"y":144},{"p":"n","c":"gr","x":134,"y":133},{"p":"n","c":"gr","x":144,"y":110},{"p":"n","c":"gr","x":158,"y":88},{"p":"n","c":"gr","x":178,"y":78},{"p":"n","c":"gr","x":198,"y":76},{"p":"n","c":"gr","x":218,"y":90},{"p":"n","c":"gr","x":231,"y":110},{"p":"n","c":"gr","x":238,"y":121},{"p":"n","c":"gr","x":264,"y":121},{"p":"n","c":"gr","x":308,"y":106},{"p":"n","c":"gr","x":348,"y":80},{"p":"n","c":"gr","x":394,"y":43},{"p":"n","c":"gr","x":430,"y":25},{"p":"n","c":"gr","x":430,"y":-30},{"p":"n","c":"gr","x":-30,"y":-30},
{"p":"o","c":"t","x":-30,"y":125},{"p":"o","c":"t","x":0,"y":125},{"p":"o","c":"t","x":34,"y":128},{"p":"o","c":"t","x":68,"y":125},{"p":"o","c":"t","x":94,"y":108},{"p":"o","c":"t","x":124,"y":80},{"p":"o","c":"t","x":148,"y":63},{"p":"o","c":"t","x":178,"y":60},{"p":"o","c":"t","x":204,"y":61},{"p":"o","c":"t","x":224,"y":76},{"p":"o","c":"t","x":248,"y":100},{"p":"o","c":"t","x":274,"y":101},{"p":"o","c":"t","x":314,"y":86},{"p":"o","c":"t","x":358,"y":60},{"p":"o","c":"t","x":394,"y":28},{"p":"o","c":"t","x":430,"y":10},{"p":"o","c":"t","x":430,"y":-30},{"p":"o","c":"t","x":-30,"y":-30},
{"p":"q","c":"cy","x":-30,"y":115},{"p":"q","c":"cy","x":0,"y":115},{"p":"q","c":"cy","x":58,"y":115},{"p":"q","c":"cy","x":88,"y":100},{"p":"q","c":"cy","x":114,"y":76},{"p":"q","c":"cy","x":141,"y":56},{"p":"q","c":"cy","x":178,"y":46},{"p":"q","c":"cy","x":208,"y":50},{"p":"q","c":"cy","x":231,"y":65},{"p":"q","c":"cy","x":254,"y":83},{"p":"q","c":"cy","x":281,"y":86},{"p":"q","c":"cy","x":318,"y":73},{"p":"q","c":"cy","x":358,"y":40},{"p":"q","c":"cy","x":394,"y":10},{"p":"q","c":"cy","x":430,"y":-5},{"p":"q","c":"cy","x":430,"y":-30},{"p":"q","c":"cy","x":-30,"y":-30},
{"p":"s","c":"lb","x":-30,"y":106},{"p":"s","c":"lb","x":0,"y":106},{"p":"s","c":"lb","x":48,"y":105},{"p":"s","c":"lb","x":84,"y":90},{"p":"s","c":"lb","x":111,"y":66},{"p":"s","c":"lb","x":138,"y":48},{"p":"s","c":"lb","x":178,"y":36},{"p":"s","c":"lb","x":211,"y":36},{"p":"s","c":"lb","x":234,"y":48},{"p":"s","c":"lb","x":261,"y":63},{"p":"s","c":"lb","x":291,"y":60},{"p":"s","c":"lb","x":324,"y":40},{"p":"s","c":"lb","x":358,"y":13},{"p":"s","c":"lb","x":394,"y":0},{"p":"s","c":"lb","x":430,"y":-30},{"p":"s","c":"lb","x":-30,"y":-30},
{"p":"t","c":"st","x":-30,"y":90},{"p":"t","c":"st","x":0,"y":90},{"p":"t","c":"st","x":48,"y":88},{"p":"t","c":"st","x":81,"y":76},{"p":"t","c":"st","x":108,"y":53},{"p":"t","c":"st","x":138,"y":38},{"p":"t","c":"st","x":178,"y":28},{"p":"t","c":"st","x":218,"y":30},{"p":"t","c":"st","x":248,"y":48},{"p":"t","c":"st","x":266,"y":52},{"p":"t","c":"st","x":284,"y":43},{"p":"t","c":"st","x":308,"y":16},{"p":"t","c":"st","x":324,"y":0},{"p":"t","c":"st","x":340,"y":-30},{"p":"t","c":"st","x":-30,"y":-30},
{"p":"u","c":"mb","x":-30,"y":80},{"p":"u","c":"mb","x":0,"y":80},{"p":"u","c":"mb","x":48,"y":76},{"p":"u","c":"mb","x":78,"y":68},{"p":"u","c":"mb","x":104,"y":48},{"p":"u","c":"mb","x":138,"y":31},{"p":"u","c":"mb","x":178,"y":21},{"p":"u","c":"mb","x":221,"y":21},{"p":"u","c":"mb","x":248,"y":40},{"p":"u","c":"mb","x":266,"y":40},{"p":"u","c":"mb","x":281,"y":35},{"p":"u","c":"mb","x":301,"y":13},{"p":"u","c":"mb","x":311,"y":0},{"p":"u","c":"mb","x":325,"y":-30},{"p":"u","c":"mb","x":-30,"y":-30},
{"p":"v","c":"b","x":-30,"y":71},{"p":"v","c":"b","x":0,"y":71},{"p":"v","c":"b","x":48,"y":68},{"p":"v","c":"b","x":78,"y":60},{"p":"v","c":"b","x":104,"y":40},{"p":"v","c":"b","x":138,"y":25},{"p":"v","c":"b","x":178,"y":15},{"p":"v","c":"b","x":221,"y":13},{"p":"v","c":"b","x":248,"y":23},{"p":"v","c":"b","x":264,"y":29},{"p":"v","c":"b","x":278,"y":23},{"p":"v","c":"b","x":291,"y":10},{"p":"v","c":"b","x":299,"y":0},{"p":"v","c":"b","x":310,"y":-30},{"p":"v","c":"b","x":-30,"y":-30},
{"p":"w","c":"dp","x":-30,"y":61},{"p":"w","c":"dp","x":0,"y":61},{"p":"w","c":"dp","x":48,"y":60},{"p":"w","c":"dp","x":81,"y":50},{"p":"w","c":"dp","x":104,"y":35},{"p":"w","c":"dp","x":138,"y":18},{"p":"w","c":"dp","x":178,"y":11},{"p":"w","c":"dp","x":221,"y":10},{"p":"w","c":"dp","x":248,"y":21},{"p":"w","c":"dp","x":263,"y":23},{"p":"w","c":"dp","x":278,"y":15},{"p":"w","c":"dp","x":291,"y":0},{"p":"w","c":"dp","x":300,"y":-30},{"p":"w","c":"dp","x":-30,"y":-30},
{"p":"x","c":"pu","x":-30,"y":51},{"p":"x","c":"pu","x":0,"y":51},{"p":"x","c":"pu","x":48,"y":46},{"p":"x","c":"pu","x":78,"y":36},{"p":"x","c":"pu","x":104,"y":26},{"p":"x","c":"pu","x":138,"y":13},{"p":"x","c":"pu","x":178,"y":6},{"p":"x","c":"pu","x":204,"y":0},{"p":"x","c":"pu","x":215,"y":-30},{"p":"x","c":"pu","x":-30,"y":-30},
{"p":"y","c":"vi","x":-30,"y":40},{"p":"y","c":"vi","x":0,"y":40},{"p":"y","c":"vi","x":48,"y":33},{"p":"y","c":"vi","x":91,"y":21},{"p":"y","c":"vi","x":134,"y":8},{"p":"y","c":"vi","x":164,"y":0},{"p":"y","c":"vi","x":175,"y":-30},{"p":"y","c":"vi","x":-30,"y":-30},
{"p":"z","c":"or","x":-30,"y":28},{"p":"z","c":"or","x":0,"y":28},{"p":"z","c":"or","x":48,"y":21},{"p":"z","c":"or","x":91,"y":13},{"p":"z","c":"or","x":124,"y":0},{"p":"z","c":"or","x":135,"y":-30},{"p":"z","c":"or","x":-30,"y":-30},
{"p":"A","c":"m","x":-30,"y":18},{"p":"A","c":"m","x":0,"y":18},{"p":"A","c":"m","x":48,"y":11},{"p":"A","c":"m","x":98,"y":5},{"p":"A","c":"m","x":124,"y":0},{"p":"A","c":"m","x":135,"y":-30},{"p":"A","c":"m","x":-30,"y":-30}
]},"mark":{"type":"line","filled":true,"interpolate":"cardinal-closed","tension":0.4,"clip":true,"strokeWidth":0},"encoding":{"x":{"field":"x","type":"quantitative","scale":{"domain":[0,394]},"axis":{"title":null,"orient":"bottom","values":[65.67,131.33,197,262.67,328.33,394],"tickCount":6,"labels":false,"grid":false,"tickSize":5,"tickColor":"#666","domainColor":"#666"}},"y":{"field":"y","type":"quantitative","scale":{"domain":[349,0]},"axis":{"title":null,"orient":"right","values":[0,87.25,174.5,261.75,349],"tickCount":5,"labelOffset":3,"labelExpr":"['ЭП','Al','Na','K','Ca'][round(datum.value/87.25)]","labelOverlap":false,"labelBound":false,"grid":false,"tickSize":8,"tickColor":"#666","domainColor":"#666","labelFont":"Liberation Serif","labelFontSize":20,"labelColor":"#111","labelPadding":5}},"color":{"field":"c","type":"nominal","legend":null,"scale":{"domain":["k","dr","r","pk","rb","do","o","g","y","yg","gr","t","cy","lb","st","mb","b","gp","dp","pu","vi","or","m"],"range":["#8A2511","#C00000","#FF0000","#D8608C","#B8655A","#FF8000","#FFA010","#FFD200","#FFFF00","#C4EE00","#00F000","#30C090","#00FFFF","#40C8E0","#4F98C4","#4080F8","#0000FF","#7A5A90","#5A3CA0","#7A30B8","#A030D8","#D050C8","#FF00FF"]}},"detail":{"field":"p"},"order":{"value":null}}},
{"data":{"values":[
{"t":"67","x":103,"y":9,"a":0},{"t":"64","x":124,"y":11,"a":0},{"t":"61","x":144,"y":11,"a":10},{"t":"58","x":254,"y":6,"a":0},{"t":"55","x":229,"y":10,"a":-15},{"t":"53","x":212,"y":14,"a":0},{"t":"50","x":190,"y":21,"a":-15},{"t":"47","x":174,"y":31,"a":-30},{"t":"44","x":161,"y":42,"a":-35},{"t":"41","x":148,"y":54,"a":-40},{"t":"38","x":137,"y":68,"a":-35},{"t":"35","x":128,"y":85,"a":-45},{"t":"32","x":128,"y":100,"a":-60},{"t":"29","x":137,"y":128,"a":-60},{"t":"26","x":151,"y":150,"a":-50},{"t":"23","x":166,"y":165,"a":-50},{"t":"20","x":191,"y":173,"a":0},{"t":"18","x":179,"y":193,"a":0},{"t":"15","x":177,"y":209,"a":0},{"t":"12","x":184,"y":226,"a":0},{"t":"9","x":191,"y":242,"a":0},{"t":"6","x":201,"y":262,"a":0},{"t":"5","x":248,"y":257,"a":0},{"t":"3","x":147,"y":262,"a":0}
]},"mark":{"type":"text","font":"Liberation Serif","fontSize":13,"color":"#111","baseline":"middle","align":"center"},"encoding":{"x":{"field":"x","type":"quantitative"},"y":{"field":"y","type":"quantitative"},"text":{"field":"t"},"angle":{"field":"a","type":"quantitative","scale":null}}}]}
]}
